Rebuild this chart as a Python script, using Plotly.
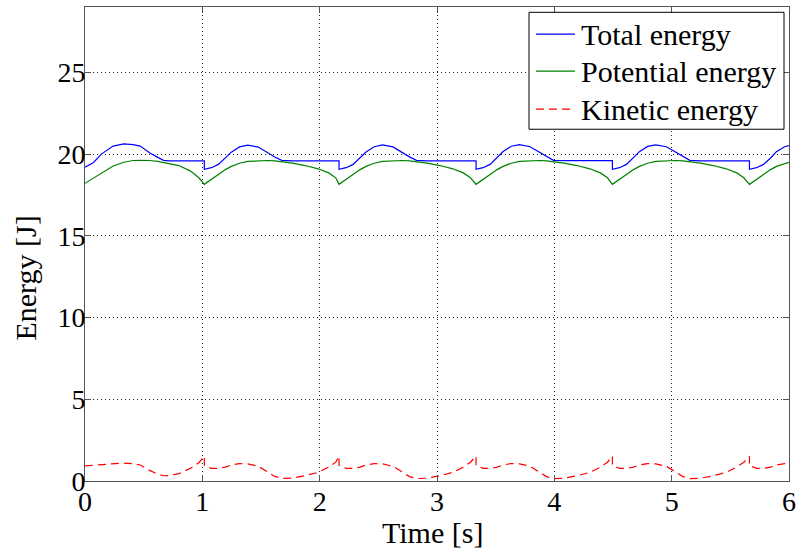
import plotly.graph_objects as go

# ---- data ----
time_s = [
    # step 1 (start-up)
    0.000, 0.070, 0.140, 0.240, 0.330, 0.410, 0.470, 0.550, 0.620, 0.670, 0.720, 0.800, 0.900, 0.970, 1.017,
    # step 2
    1.017, 1.077, 1.137, 1.197, 1.247, 1.317, 1.387, 1.477, 1.557, 1.617, 1.677, 1.767, 1.877, 1.987, 2.077, 2.137, 2.165,
    # step 3
    2.165, 2.225, 2.285, 2.345, 2.395, 2.465, 2.535, 2.625, 2.705, 2.765, 2.825, 2.915, 3.025, 3.135, 3.225, 3.285, 3.333,
    # step 4
    3.333, 3.393, 3.453, 3.513, 3.563, 3.633, 3.703, 3.793, 3.873, 3.933, 3.993, 4.083, 4.193, 4.303, 4.393, 4.453, 4.495,
    # step 5
    4.495, 4.555, 4.615, 4.675, 4.725, 4.795, 4.865, 4.955, 5.035, 5.095, 5.155, 5.245, 5.355, 5.465, 5.555, 5.615, 5.663,
    # step 6 (partial)
    5.663, 5.723, 5.783, 5.843, 5.893, 5.963, 6.000,
]

total_energy = [
    19.20, 19.47, 20.00, 20.49, 20.62, 20.58, 20.49, 20.08, 19.80, 19.62, 19.58, 19.58, 19.58, 19.58, 19.58,
    19.07, 19.17, 19.37, 19.76, 20.12, 20.44, 20.55, 20.43, 20.08, 19.82, 19.62, 19.58, 19.58, 19.58, 19.58, 19.58, 19.58,
    19.07, 19.17, 19.37, 19.76, 20.13, 20.45, 20.56, 20.44, 20.09, 19.83, 19.62, 19.58, 19.58, 19.58, 19.58, 19.58, 19.58,
    19.07, 19.17, 19.37, 19.78, 20.16, 20.48, 20.58, 20.45, 20.10, 19.84, 19.62, 19.60, 19.60, 19.60, 19.60, 19.60, 19.60,
    19.07, 19.17, 19.37, 19.77, 20.15, 20.47, 20.57, 20.45, 20.10, 19.84, 19.62, 19.59, 19.59, 19.59, 19.59, 19.59, 19.59,
    19.07, 19.17, 19.37, 19.76, 20.15, 20.45, 20.52,
]

potential_energy = [
    18.21, 18.52, 18.85, 19.27, 19.50, 19.61, 19.62, 19.61, 19.55, 19.48, 19.42, 19.30, 18.96, 18.55, 18.15,
    18.15, 18.46, 18.76, 19.05, 19.25, 19.44, 19.55, 19.60, 19.61, 19.58, 19.53, 19.45, 19.30, 19.10, 18.85, 18.55, 18.15,
    18.15, 18.46, 18.76, 19.05, 19.25, 19.44, 19.55, 19.60, 19.61, 19.58, 19.53, 19.45, 19.30, 19.10, 18.85, 18.55, 18.15,
    18.15, 18.46, 18.76, 19.05, 19.25, 19.44, 19.55, 19.60, 19.61, 19.58, 19.53, 19.45, 19.30, 19.10, 18.85, 18.55, 18.15,
    18.15, 18.46, 18.76, 19.05, 19.25, 19.44, 19.55, 19.60, 19.61, 19.58, 19.53, 19.45, 19.30, 19.10, 18.85, 18.55, 18.15,
    18.15, 18.46, 18.76, 19.05, 19.25, 19.44, 19.50,
]

kinetic_energy = [
    0.93, 0.97, 1.03, 1.08, 1.10, 1.06, 0.98, 0.65, 0.42, 0.32, 0.33, 0.45, 0.78, 1.12, 1.52,
    0.95, 0.77, 0.77, 0.85, 0.98, 1.06, 1.05, 0.90, 0.55, 0.28, 0.16, 0.18, 0.33, 0.53, 0.85, 1.15, 1.52,
    0.95, 0.77, 0.77, 0.85, 0.98, 1.06, 1.05, 0.90, 0.55, 0.27, 0.15, 0.17, 0.32, 0.53, 0.85, 1.15, 1.52,
    0.95, 0.77, 0.77, 0.85, 0.98, 1.07, 1.05, 0.90, 0.55, 0.27, 0.15, 0.17, 0.32, 0.53, 0.85, 1.15, 1.52,
    0.95, 0.77, 0.77, 0.85, 0.98, 1.06, 1.05, 0.90, 0.55, 0.27, 0.15, 0.17, 0.32, 0.53, 0.85, 1.15, 1.52,
    0.95, 0.77, 0.77, 0.85, 0.98, 1.06, 1.05,
]

series_names = ["Total energy", "Potential energy", "Kinetic energy"]
x_ticks = [0, 1, 2, 3, 4, 5, 6]
y_ticks = [0, 5, 10, 15, 20, 25]
x_title = "Time [s]"
y_title = "Energy [J]"

FONT = "Liberation Serif, Times New Roman, serif"
colors = ["#0000ff", "#008000", "#ff0000"]
dashes = ["solid", "solid", "8px,5px"]
series_values = [total_energy, potential_energy, kinetic_energy]

fig = go.Figure()
for name, vals, col, dsh in zip(series_names, series_values, colors, dashes):
    fig.add_trace(go.Scatter(x=time_s, y=vals, mode="lines", name=name,
                             line=dict(color=col, width=1.2, dash=dsh), showlegend=False))

axis_common = dict(
    showline=True, linecolor="#555555", linewidth=1, mirror="ticks",
    ticks="inside", ticklen=6, tickcolor="#555555",
    showgrid=True, gridcolor="#222222", griddash="1px,3px", gridwidth=1,
    zeroline=False,
    tickfont=dict(family=FONT, size=28, color="black"),
)

fig.update_xaxes(range=[0, 6], tickvals=x_ticks, ticktext=[str(v) for v in x_ticks],
                 ticklabelstandoff=-5, **axis_common)
fig.update_yaxes(range=[0, 29], tickvals=y_ticks, ticktext=[str(v) for v in y_ticks],
                 ticklabelstandoff=-7, **axis_common)

# axis titles
fig.add_annotation(text=x_title, xref="paper", yref="paper", x=0.494, y=-0.108,
                   xanchor="center", yanchor="middle", showarrow=False,
                   font=dict(family=FONT, size=30, color="black"))
fig.add_annotation(text=y_title, xref="paper", yref="paper", x=-0.084, y=0.429,
                   xanchor="center", yanchor="middle", showarrow=False, textangle=-90,
                   font=dict(family=FONT, size=30, color="black"))

# legend box (MATLAB style)
fig.add_shape(type="rect", xref="paper", yref="paper", x0=0.6307, x1=0.9929, y0=0.7421, y1=0.9888,
              line=dict(color="black", width=1), fillcolor="white", layer="above")
row_y = [0.9429, 0.8647, 0.7844]
for name, col, dsh, yy in zip(series_names, colors, dashes, row_y):
    fig.add_shape(type="line", xref="paper", yref="paper", x0=0.6406, x1=0.6960, y0=yy, y1=yy,
                  line=dict(color=col, width=1.2, dash=dsh), layer="above")
    fig.add_annotation(text=name, xref="paper", yref="paper", x=0.7017, y=yy,
                       xanchor="left", yanchor="middle", showarrow=False,
                       font=dict(family=FONT, size=30, color="black"))

fig.update_layout(
    width=799, height=553,
    margin=dict(l=85, r=10, t=7, b=72, autoexpand=False),
    paper_bgcolor="white", plot_bgcolor="white",
    font=dict(family=FONT, color="black"),
    showlegend=False,
)

fig.write_html("out.html", config={"displayModeBar": False},
               post_script="document.body.style.margin='0px';document.body.style.overflow='hidden';")
